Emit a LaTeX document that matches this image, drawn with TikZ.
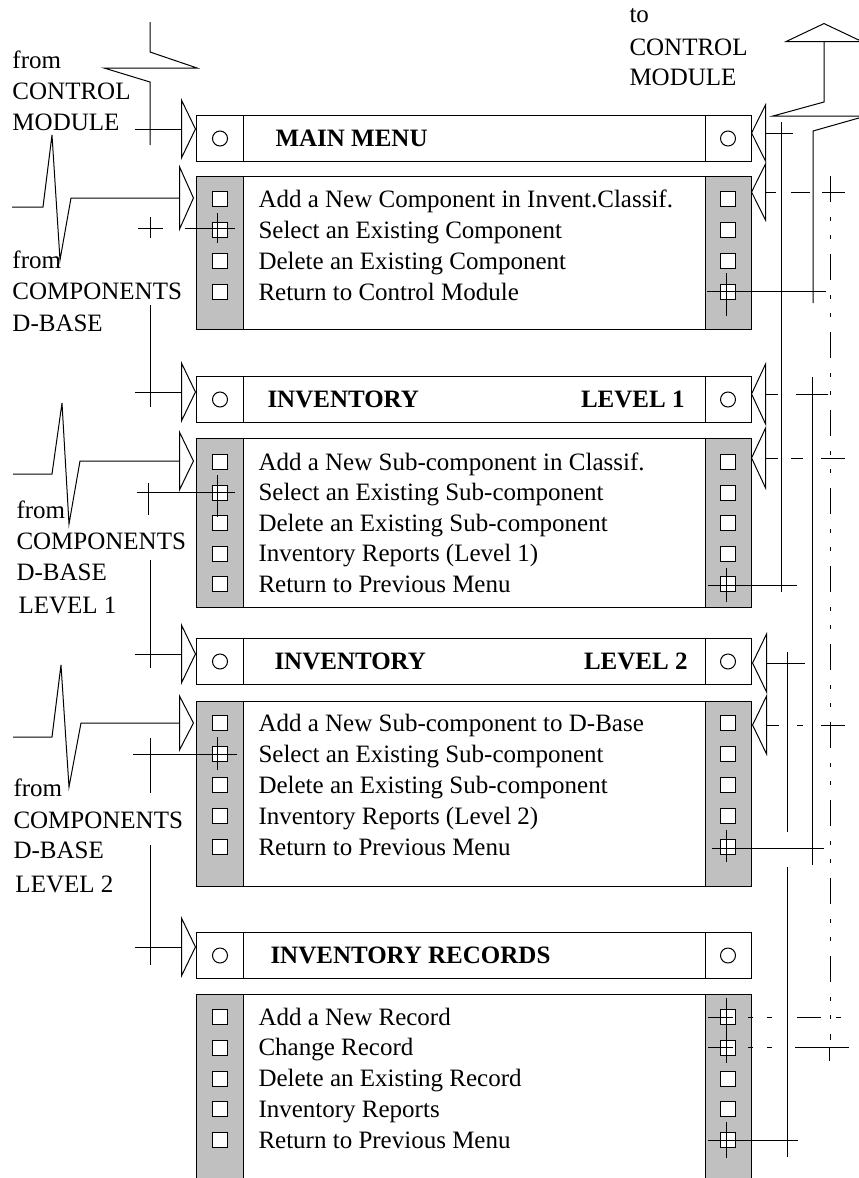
\documentclass[tikz,border=0pt]{standalone}
\usepackage{fontspec}
\setmainfont{Liberation Serif}
\usepackage{tikz}
\usetikzlibrary{arrows.meta,positioning,calc}
\definecolor{panelgray}{HTML}{C0C0C0}

\begin{document}
\begin{tikzpicture}[x=1pt, y=-1pt, line width=1pt,
  txt/.style={font=\fontsize{25pt}{30pt}\selectfont, inner sep=0pt, anchor=base west},
  ttl/.style={txt, font=\fontsize{25pt}{30pt}\selectfont\bfseries},
  hdr/.style={draw, minimum width=555pt, minimum height=46pt, inner sep=0pt, anchor=north west,
    path picture={
      \draw ([xshift=47pt]path picture bounding box.north west) -- ([xshift=47pt]path picture bounding box.south west);
      \draw ([xshift=-46pt]path picture bounding box.north east) -- ([xshift=-46pt]path picture bounding box.south east);
    }},
  body/.style={draw, minimum width=555pt, inner sep=0pt, anchor=north west,
    path picture={
      \fill[panelgray] (path picture bounding box.north west) rectangle ([xshift=47pt]path picture bounding box.south west);
      \fill[panelgray] ([xshift=-46pt]path picture bounding box.north east) rectangle (path picture bounding box.south east);
      \draw ([xshift=47pt]path picture bounding box.north west) -- ([xshift=47pt]path picture bounding box.south west);
      \draw ([xshift=-46pt]path picture bounding box.north east) -- ([xshift=-46pt]path picture bounding box.south east);
    }},
  ring/.style={draw, circle, minimum size=15pt, inner sep=0pt},
  sq/.style={draw, fill=white, minimum size=15pt, inner sep=0pt},
  feed/.style={-{Triangle[open, length=15pt, width=#1]}},
  feed/.default=62pt,
  dd/.style={dash pattern=on 26pt off 15pt on 4pt off 14pt on 4pt off 15pt}
]
  \useasboundingbox (0,0) rectangle (859,1178);
  \clip (0,0) rectangle (859,1178);

  \node[hdr] (mainmenu) at (196,115) {};
  \node[ring, right=16pt of mainmenu.west] (mainmenu-l) {};
  \node[ring, left=16pt of mainmenu.east] (mainmenu-r) {};
  \node[ttl] (mainmenu-t) at (275,146.5) {MAIN MENU};

  \node[body, minimum height=153pt] (menu0) at (196,176) {};
  \foreach \r [count=\i] in {199,230,261,292} {
    \node[sq] (m0l\i) at (219.5,\r) {};
    \node[sq] (m0r\i) at (727.5,\r) {};
  }
  \node[txt] (m0t1) at (258,207) {Add a New Component in Invent.Classif.};
  \node[txt] (m0t2) at (258,238) {Select an Existing Component};
  \node[txt] (m0t3) at (258,269) {Delete an Existing Component};
  \node[txt] (m0t4) at (258,300) {Return to Control Module};

  \node[hdr] (inv1) at (196,376) {};
  \node[ring, right=16pt of inv1.west] (inv1-l) {};
  \node[ring, left=16pt of inv1.east] (inv1-r) {};
  \node[ttl] (inv1-t) at (267,407.5) {INVENTORY};
  \node[ttl, anchor=base east] (inv1-lv) at (685,407.5) {LEVEL 1};

  \node[body, minimum height=169pt] (menu1) at (196,438) {};
  \foreach \r [count=\i] in {462,492.6,523.2,553.8,584.4} {
    \node[sq] (m1l\i) at (219.5,\r) {};
    \node[sq] (m1r\i) at (727.5,\r) {};
  }
  \node[txt] (m1t1) at (258,470) {Add a New Sub-component in Classif.};
  \node[txt] (m1t2) at (258,500.6) {Select an Existing Sub-component};
  \node[txt] (m1t3) at (258,531.2) {Delete an Existing Sub-component};
  \node[txt] (m1t4) at (258,561.8) {Inventory Reports (Level 1)};
  \node[txt] (m1t5) at (258,592.4) {Return to Previous Menu};

  \node[hdr] (inv2) at (196,638) {};
  \node[ring, right=16pt of inv2.west] (inv2-l) {};
  \node[ring, left=16pt of inv2.east] (inv2-r) {};
  \node[ttl] (inv2-t) at (274,669.5) {INVENTORY};
  \node[ttl, anchor=base east] (inv2-lv) at (688,669.5) {LEVEL 2};

  \node[body, minimum height=185pt] (menu2) at (196,701) {};
  \foreach \r [count=\i] in {723,754,785,816,847} {
    \node[sq] (m2l\i) at (219.5,\r) {};
    \node[sq] (m2r\i) at (727.5,\r) {};
  }
  \node[txt] (m2t1) at (258,731) {Add a New Sub-component to D-Base};
  \node[txt] (m2t2) at (258,762) {Select an Existing Sub-component};
  \node[txt] (m2t3) at (258,793) {Delete an Existing Sub-component};
  \node[txt] (m2t4) at (258,824) {Inventory Reports (Level 2)};
  \node[txt] (m2t5) at (258,855) {Return to Previous Menu};

  \node[hdr] (invrec) at (196,932) {};
  \node[ring, right=16pt of invrec.west] (invrec-l) {};
  \node[ring, left=16pt of invrec.east] (invrec-r) {};
  \node[ttl] (invrec-t) at (270,963.5) {INVENTORY RECORDS};

  \node[body, minimum height=230pt] (menu3) at (196,994) {};
  \foreach \r [count=\i] in {1017,1047.8,1078.6,1109.4,1140.2} {
    \node[sq] (m3l\i) at (219.5,\r) {};
    \node[sq] (m3r\i) at (727.5,\r) {};
  }
  \node[txt] (m3t1) at (258,1025) {Add a New Record};
  \node[txt] (m3t2) at (258,1055.8) {Change Record};
  \node[txt] (m3t3) at (258,1086.6) {Delete an Existing Record};
  \node[txt] (m3t4) at (258,1117.4) {Inventory Reports};
  \node[txt] (m3t5) at (258,1148.2) {Return to Previous Menu};

  \node[txt] (cm-a) at (12,68) {from};
  \node[txt] (cm-b) at (12,99) {CONTROL};
  \node[txt] (cm-c) at (12,130) {MODULE};
  \node[txt] (db0-a) at (12,268) {from};
  \node[txt] (db0-b) at (12,299) {COMPONENTS};
  \node[txt] (db0-c) at (12,331) {D-BASE};
  \node[txt] (db1-a) at (16,518) {from};
  \node[txt] (db1-b) at (16,549) {COMPONENTS};
  \node[txt] (db1-c) at (16,580) {D-BASE};
  \node[txt] (db1-d) at (18,613) {LEVEL 1};
  \node[txt] (db2-a) at (13,796) {from};
  \node[txt] (db2-b) at (13,828) {COMPONENTS};
  \node[txt] (db2-c) at (13,858) {D-BASE};
  \node[txt] (db2-d) at (15,892) {LEVEL 2};
  \node[txt] (tcm-a) at (629,22) {to};
  \node[txt] (tcm-b) at (629,55) {CONTROL};
  \node[txt] (tcm-c) at (629,85) {MODULE};

  \draw (150,22) -- (150,52) -- (197,68) -- (104,68) -- (150,82) -- (150,145);
  \draw[feed] (135,129) -- (196,129);
  \draw[feed=67pt] (12,207) -- (43,207) -- (52,135) -- (60,260) -- (71,198) -- (194,198);
  \draw (138,228) -- (163,228) (150,217) -- (150,238);
  \draw (185,228) -- (235,228) (217,213) -- (217,243);
  \draw (150,305) -- (150,407);
  \draw[feed] (135,392) -- (196,392);
  \draw[feed] (13,474) -- (52,474) -- (62,403) -- (69,524) -- (80,461) -- (194,461);
  \draw (137,492) -- (235,492) (148,483) -- (148,515) (217,475) -- (217,517);
  \draw (150,560) -- (150,668);
  \draw[feed] (135,654) -- (196,654);
  \draw[feed=58pt] (13,737) -- (52,737) -- (61,665) -- (69,787) -- (81,723) -- (194,723);
  \draw (133,754) -- (237,754) (150,738) -- (150,793) (217,737) -- (217,770);
  \draw (150,845) -- (150,965);
  \draw[feed] (135,947) -- (196,947);

  \draw[-{Triangle[open, length=19pt, width=80pt]}] (813,303) -- (813,131) -- (866,116) -- (773,116) -- (824,102) -- (824,23);
  \draw[feed=60pt] (793,133) -- (751,133);
  \draw (781,122) -- (781,592);
  \draw[feed=60pt, dash pattern=on 23pt off 12pt on 19pt off 15pt on 20pt] (845,192) -- (751,192);
  \draw (707,291) -- (826,291) (726,273) -- (726,316);
  \draw[dd] (830,176) -- (830,1040);
  \draw (812,377) -- (812,865);
  \draw[feed=64pt, dash pattern=on 32pt off 18pt on 20pt] (828,394) -- (751,394);
  \draw[feed=64pt, dash pattern=on 24pt off 18pt on 12pt off 13pt on 20pt] (845,458) -- (751,458);
  \draw (708,585) -- (797,585) (726,568) -- (726,602);
  \draw (787,652) -- (787,832) (787,867) -- (787,1157);
  \draw[feed=62pt] (805,663) -- (752,663);
  \draw[feed=62pt, dash pattern=on 24pt off 18pt on 6pt off 18pt on 20pt] (845,725) -- (752,725);
  \draw (712,848) -- (824,848) (726,830) -- (726,862);
  \draw (708,1017) -- (733,1017) (726,998) -- (726,1033);
  \draw[dash pattern=on 5pt off 14pt on 5pt off 25pt on 24pt off 15pt on 5pt off 20pt] (748,1017) -- (841,1017);
  \draw (708,1047) -- (733,1047) (726,1033) -- (726,1063);
  \draw[dash pattern=on 5pt off 14pt on 5pt off 200pt] (748,1047) -- (772,1047);
  \draw (795,1047) -- (849,1047) (829,1047) -- (829,1061);
  \draw (708,1140) -- (798,1140) (726,1122) -- (726,1158);
\end{tikzpicture}
\end{document}
